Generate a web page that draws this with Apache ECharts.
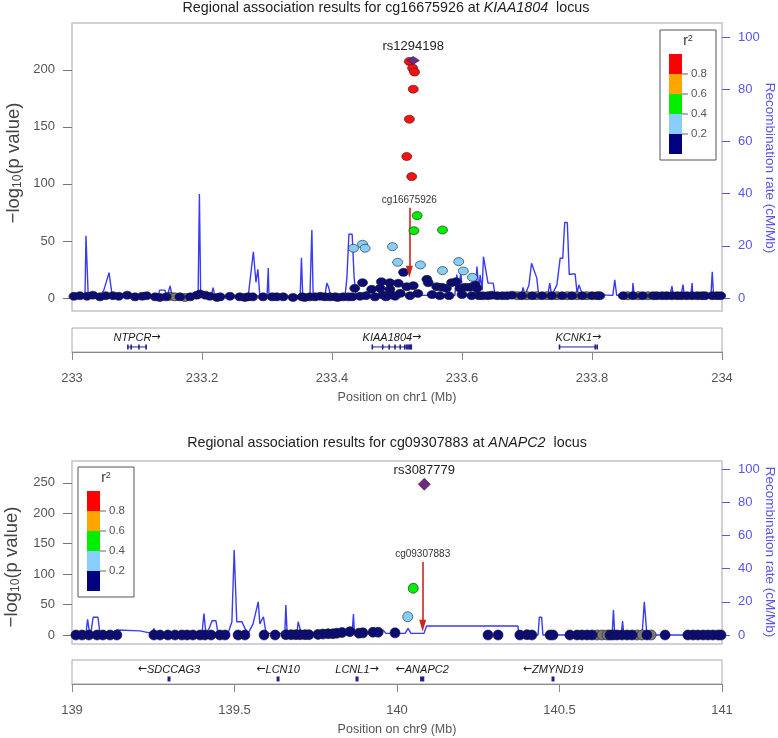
<!DOCTYPE html>
<html><head><meta charset="utf-8">
<script src="https://cdn.jsdelivr.net/npm/echarts@6/dist/echarts.min.js"></script>
<style>html,body{margin:0;padding:0;background:#fff}#c{width:778px;height:738px}</style>
</head><body><div id="c"></div>
<script>
// ---------------- TOP PANEL (chr1, KIAA1804) ----------------
const topNavy = [
[233.003,1.5],[233.012,2],[233.023,1.5],[233.032,2.5],[233.043,1],[233.052,2],[233.063,2],[233.072,1.5],[233.085,2.5],[233.097,1],
[233.108,1.5],[233.115,2],[233.128,1],[233.135,0.5],[233.145,1],[233.166,1],[233.182,1],[233.192,2.5],[233.197,3.5],[233.205,2.5],
[233.212,1.5],[233.223,0.5],[233.228,1],[233.243,1.5],[233.258,1],[233.266,0.5],[233.271,1],[233.278,1],[233.294,1],[233.308,1],
[233.315,1],[233.325,1],[233.340,0.5],[233.354,1],[233.358,0.5],[233.366,1],[233.374,1],[233.382,1.5],[233.389,1],[233.397,1],
[233.405,1],[233.409,0.5],[233.417,1],[233.425,1],[233.431,1],
[233.435,8.5],[233.447,13.4],[233.461,7.6],[233.476,14.3],[233.474,8.5],[233.478,2.6],[233.489,13.4],[233.489,7.6],[233.492,2.6],
[233.502,12.9],[233.505,4.1],[233.515,9.9],[233.525,10.8],[233.546,16.4],[233.548,13.4],[233.561,9.9],[233.569,9.4],[233.576,8.5],
[233.584,13.4],[233.591,14.3],[233.597,8.5],[233.605,9.4],[233.612,9.4],[233.620,11.4],[233.623,8.5],[233.510,22.5],
[233.443,1.5],[233.452,2],[233.466,1],[233.483,1],[233.497,1.5],[233.520,2],[233.532,4],[233.554,3],[233.566,2],[233.580,2],
[233.600,3],[233.615,2],[233.626,2],
[233.632,2],[233.640,2],[233.646,2.5],[233.654,2],[233.662,2],[233.669,2],[233.677,2.5],[233.692,2],[233.708,2],[233.723,2],
[233.738,2],[233.754,2],[233.769,2],[233.785,2],[233.800,2],[233.808,2],[233.812,2],[233.848,2],[233.863,2],[233.878,2],
[233.894,2],[233.900,2],[233.908,2],[233.915,2],[233.923,2],[233.931,2],[233.938,2],[233.946,2],[233.954,2],[233.962,2],
[233.969,2],[233.974,2],[233.985,2],[233.992,2],[233.998,2]
];
const topGray = [
[233.151,1.5],[233.158,1],[233.174,0.5],[233.685,2],[233.700,2],[233.715,2],[233.731,2],[233.746,2],[233.762,2],[233.777,2],
[233.792,2],[233.855,2],[233.871,2],[233.886,2]
];
const topLightBlue = [
[233.433,43.6],[233.447,47.1],[233.451,43.6],[233.493,45],[233.501,31.3],[233.536,29],[233.570,24],[233.595,31.9],[233.602,23.7],[233.616,18.1]
];
const topGreen = [[233.531,72.2],[233.526,59],[233.570,59.6]];
const topRed = [[233.519,207.3],[233.524,201.5],[233.527,198],[233.525,183],[233.519,156.7],[233.515,124],[233.5226,106.4]];
const topLead = [[233.525,208.2]];
const topLeadName = 'rs1294198';
const topProbeName = 'cg16675926';
const topProbe = [233.519, 79, 23];   // position, arrow start, arrow tip (−log10 p units)
const topRecomb = [
[233.000,0.5],[233.020,0.5],[233.0215,23.8],[233.024,23.8],[233.025,0.5],
[233.043,0.5],[233.049,3],[233.057,9.7],[233.062,0.5],
[233.132,0.5],[233.135,3],[233.143,3],[233.146,0.5],[233.151,4.6],[233.154,0.5],
[233.194,0.5],[233.196,39.8],[233.198,0.5],
[233.214,0.5],[233.217,4],[233.220,0.5],
[233.271,0.5],[233.274,6.9],[233.279,17.7],[233.283,6],[233.286,11],[233.289,0.5],
[233.300,0.5],[233.302,11.5],[233.303,0.5],
[233.351,0.5],[233.353,15.4],[233.355,0.5],
[233.366,0.5],[233.369,26],[233.371,0.5],
[233.389,0.5],[233.392,5.7],[233.395,4],[233.398,0.5],
[233.420,0.5],[233.423,8],[233.426,24.4],[233.431,24.4],[233.434,8],[233.437,1],
[233.451,1],[233.453,2.5],[233.455,1],
[233.526,1],[233.528,2.5],[233.531,1],
[233.589,1],[233.592,9],[233.595,3],[233.598,9.5],[233.602,1],
[233.620,1],[233.623,12],[233.626,3],[233.628,8.8],[233.631,3],[233.633,15.8],[233.635,15.8],[233.640,5.7],[233.648,5.7],[233.651,1],
[233.691,1],[233.694,4],[233.697,1],[233.703,5],[233.707,13.3],[233.715,7.7],[233.718,1],
[233.732,1],[233.735,5.7],[233.738,1],
[233.746,5],[233.751,15.2],[233.755,15.2],[233.758,28.9],[233.762,28.9],[233.765,9],[233.770,9.2],[233.774,9.2],[233.777,2],[233.780,5],[233.785,1.5],
[233.832,1],[233.835,6.9],[233.838,1],
[233.862,1],[233.863,5.7],[233.865,1],
[233.920,1],[233.923,4.5],[233.925,1],
[233.937,1],[233.940,5.1],[233.942,1],
[233.952,1],[233.954,5.7],[233.955,1],
[233.983,1],[233.985,10],[233.987,1],[234.000,1]
];
const topGeneNames = ['NTPCR','KIAA1804','KCNK1'];
const topGeneStart = [233.085,233.4615,233.749];
const topGeneEnd = [233.115,233.523,233.809];
const topGeneStrand = [1,1,1];
const topGeneExons = [
[233.086,233.091,233.103,233.114],
[233.462,233.478,233.488,233.497,233.505,233.512,233.515,233.517,233.519,233.521,233.522],
[233.750,233.805,233.808]
];
const topXTicks = [233,233.2,233.4,233.6,233.8,234];
const topPTicks = [0,50,100,150,200];
const recTicks = [0,20,40,60,80,100];

// ---------------- BOTTOM PANEL (chr9, ANAPC2) ----------------
const botNavy = [
[139.012,0],[139.031,0],[139.052,0],[139.077,0],[139.095,0],[139.117,0],[139.138,0],
[139.252,0],[139.271,0],[139.295,0],[139.317,0],[139.338,0],[139.354,0],[139.372,0],[139.394,0],[139.409,0],[139.428,0],[139.455,0],[139.471,0],
[139.511,0],[139.532,0],[139.591,0],[139.625,0],
[139.658,0.5],[139.674,0.5],[139.689,0.5],[139.702,0.5],[139.717,0.5],[139.729,0.5],
[139.757,1],[139.772,1.5],[139.788,2],[139.803,2],[139.815,3],[139.831,4],
[139.855,5.5],[139.883,3],[139.895,3.5],[139.926,4.5],[139.942,4.5],[139.994,3.5],
[140.280,0],[140.311,0],[140.378,0],[140.400,0.5],[140.415,0],[140.471,0],[140.480,0],
[140.532,0],[140.554,0],[140.569,0],[140.585,0],[140.600,0],[140.655,0],[140.665,0],[140.677,0],[140.692,0],[140.708,0],[140.723,0],[140.769,0],
[140.825,0],[140.895,0],[140.911,0],[140.926,0],[140.942,0],[140.957,0],[140.972,0],[140.988,0],[140.997,0]
];
const botGray = [[140.615,0],[140.631,0],[140.646,0],[140.738,0],[140.754,0],[140.782,0]];
const botLightBlue = [[140.033,30]];
const botGreen = [[140.050,76.8]];
const botRed = [];
const botLead = [[140.084,247.8]];
const botLeadName = 'rs3087779';
const botProbeName = 'cg09307883';
const botProbe = [140.079, 120, 15.3];
const botRecomb = [
[139.000,1],[139.043,1],[139.048,9.4],[139.052,4],[139.058,1],[139.065,10.7],[139.080,10.7],[139.086,1],
[139.123,1],[139.138,3],[139.209,2.5],[139.246,1],[139.252,4],[139.258,1],
[139.400,1],[139.406,13],[139.412,1],[139.422,4],[139.431,8.6],[139.443,8.6],[139.449,1],
[139.480,1],[139.492,8],[139.499,51.2],[139.507,8],[139.523,8],[139.532,4],[139.542,1],
[139.548,1],[139.557,6.7],[139.573,20],[139.578,6.7],[139.589,11],[139.597,1],
[139.655,1],[139.658,18],[139.662,1],[139.692,1],[139.696,8],[139.702,8],[139.705,1],
[139.862,1],[139.866,12.6],[139.869,1],[139.948,1],[139.957,3],[139.966,1],
[140.025,1],[140.034,4],[140.043,1],[140.083,1],[140.091,5.4],[140.372,5.4],[140.375,0],
[140.434,0],[140.438,10.7],[140.445,10.7],[140.449,0],
[140.662,0],[140.666,15],[140.670,0],[140.690,0],[140.694,8.4],[140.698,0],
[140.754,0],[140.761,20],[140.769,0],[140.966,0],[140.971,2.3],[140.975,0],[141.000,0]
];
const botGeneNames = ['SDCCAG3','LCN10','LCNL1','ANAPC2','ZMYND19'];
const botGeneStart = [139.295,139.633,139.876,140.071,140.478];
const botGeneEnd = [139.302,139.635,139.878,140.084,140.482];
const botGeneStrand = [-1,-1,1,-1,-1];
const botGeneExons = [[],[],[],[],[]];
const botXTicks = [139,139.5,140,140.5,141];
const botPTicks = [0,50,100,150,200,250];

// r² legend
const r2Colors = ['#ff0000','#ffa500','#00ee00','#87cefa','#000080'];
const r2Labels = ['0.8','0.6','0.4','0.2'];

// ---------------- styles ----------------
const FF = '"Liberation Sans", Arial, sans-serif';
const C = {navy:'#0c0c78', lb:'#87cefa', green:'#00ee00', red:'#ff1010', gray:'#7a7a7a', lead:'#6e2a7e', rec:'#3a3af2', recTxt:'#5555f0', arrow:'#c8281e'};

function scat(xi, yi, data, color, size, z) {
  return {type:'scatter', xAxisIndex:xi, yAxisIndex:yi, data:data, symbol:'circle', symbolSize:size,
    itemStyle:{color:color, borderColor:'#1a1a1a', borderWidth:0.6, opacity:1}, z:z, silent:true};
}
function leadSeries(xi, yi, data, name, size, dist, probe, probeName) {
  return {type:'scatter', xAxisIndex:xi, yAxisIndex:yi, data:data, symbol:'diamond', symbolSize:size,
    itemStyle:{color:C.lead, borderColor:'#3a1040', borderWidth:0.6, opacity:1}, z:10, silent:true,
    label:{show:true, position:'top', distance:dist, formatter:name, fontSize:13, fontFamily:FF, color:'#222'},
    markLine:{silent:true, animation:false, symbol:['none','triangle'], symbolSize:[7,12],
      lineStyle:{color:C.arrow, width:1.6, type:'solid', opacity:1},
      itemStyle:{color:C.arrow},
      label:{show:true, position:'start', formatter:probeName, fontSize:10, fontFamily:FF, color:'#333', distance:3},
      data:[[{coord:[probe[0],probe[1]]},{coord:[probe[0],probe[2]]}]]}
  };
}
function recSeries(xi, yi, data) {
  return {type:'line', xAxisIndex:xi, yAxisIndex:yi, data:data, showSymbol:false, symbol:'none',
    lineStyle:{color:C.rec, width:1.4}, z:1, silent:true};
}
function geneSeries(xi, yi, names, starts, ends, strands, exons) {
  return {type:'custom', xAxisIndex:xi, yAxisIndex:yi, silent:true, z:5,
    data: names.map(function(n,i){return [starts[i], ends[i], i];}),
    renderItem: function(params, api) {
      const i = api.value(2);
      const s = api.value(0), e = api.value(1);
      const p0 = api.coord([s, 0.21]), p1 = api.coord([e, 0.21]);
      const pl = api.coord([(s+e)/2, 0.6]);
      const ch = [];
      const ex = exons[i] || [];
      if (ex.length) {
        ch.push({type:'line', shape:{x1:p0[0], y1:p0[1], x2:p1[0], y2:p1[1]}, style:{stroke:'#20208a', lineWidth:1}});
        ex.forEach(function(v){ const pe = api.coord([v,0.21]);
          ch.push({type:'rect', shape:{x:pe[0]-0.8, y:pe[1]-2.5, width:1.6, height:5}, style:{fill:'#20208a'}}); });
      } else {
        const w = Math.max(3, p1[0]-p0[0]);
        ch.push({type:'rect', shape:{x:(p0[0]+p1[0])/2-w/2, y:p0[1]-2.5, width:w, height:5}, style:{fill:'#20208a'}});
      }
      const lab = strands[i] > 0 ? '{n|' + names[i] + '}{a|\u2192}' : '{a|\u2190}{n|' + names[i] + '}';
      ch.push({type:'text', style:{text:lab, x:pl[0], y:pl[1], align:'center', verticalAlign:'middle',
        rich:{n:{fontSize:11, fontStyle:'italic', fontFamily:FF, fill:'#1a1a1a'},
              a:{fontSize:11, fontFamily:'"DejaVu Sans"', fill:'#1a1a1a'}}}});
      return {type:'group', children:ch};
    }};
}
function pAxis(gi, min, max, ticks) {
  return {gridIndex:gi, type:'value', position:'left', min:min, max:max,
    axisLine:{show:false}, splitLine:{show:false},
    axisTick:{show:true, length:9, lineStyle:{color:'#777', width:1}, customValues:ticks},
    axisLabel:{show:true, customValues:ticks, margin:17, fontSize:13, fontFamily:FF, color:'#555'}};
}
function rAxis(gi, min, max) {
  return {gridIndex:gi, type:'value', position:'right', min:min, max:max,
    axisLine:{show:false}, splitLine:{show:false},
    axisTick:{show:true, length:8, lineStyle:{color:C.recTxt, width:1}, customValues:recTicks},
    axisLabel:{show:true, customValues:recTicks, margin:16, fontSize:13, fontFamily:FF, color:C.recTxt}};
}
function posAxis(gi, min, max, interval, name) {
  return {gridIndex:gi, type:'value', position:'bottom', min:min, max:max, interval:interval,
    axisLine:{show:true, lineStyle:{color:'#888', width:1}}, splitLine:{show:false},
    axisTick:{show:true, length:8, lineStyle:{color:'#888', width:1}},
    axisLabel:{show:true, margin:20, fontSize:13, fontFamily:FF, color:'#555'},
    name:name, nameLocation:'middle', nameGap:39, nameTextStyle:{fontSize:12.5, fontFamily:FF, color:'#555'}};
}
function legendGraphic(x0, y0) {
  const els = [];
  els.push({type:'rect', shape:{x:x0, y:y0, width:56, height:130}, style:{fill:'#fff', stroke:'#555', lineWidth:1}, z:100});
  els.push({type:'text', style:{text:'{r|r}{s|2}', rich:{r:{fontSize:14, fontFamily:FF, fill:'#333'}, s:{fontSize:9, fontFamily:FF, fill:'#333', verticalAlign:'top'}},
    x:x0+28, y:y0+11, align:'center', verticalAlign:'middle'}, z:101});
  r2Colors.forEach(function(c,i){
    els.push({type:'rect', shape:{x:x0+9, y:y0+24+i*20, width:13, height:20}, style:{fill:c, stroke:null}, z:101});
  });
  r2Labels.forEach(function(t,i){
    const yy = y0+44+i*20;
    els.push({type:'line', shape:{x1:x0+22, y1:yy, x2:x0+28, y2:yy}, style:{stroke:'#666', lineWidth:1}, z:101});
    els.push({type:'text', style:{text:t, x:x0+31, y:yy, align:'left', verticalAlign:'middle', fontSize:11.5, fontFamily:FF, fill:'#555'}, z:101});
  });
  return els;
}
function titleGraphic(x, y, probe, gene) {
  return {type:'text', z:100, style:{text:'{a|Regional association results for ' + probe + ' at }{b|' + gene + '}{a|  locus}',
    rich:{a:{fontSize:14.3, fontFamily:FF, fill:'#222'}, b:{fontSize:14.3, fontFamily:FF, fontStyle:'italic', fill:'#222'}},
    x:x, y:y, align:'center', verticalAlign:'middle'}};
}
function ylabGraphic(x, y) {
  return {type:'text', z:100, rotation:Math.PI/2, x:x, y:y,
    style:{text:'{a|\u2212log}{s|10}{a|(p value)}', rich:{a:{fontSize:18.5, fontFamily:FF, fill:'#444'}, s:{fontSize:12, fontFamily:FF, fill:'#444', verticalAlign:'bottom'}},
    x:0, y:0, align:'center', verticalAlign:'middle'}};
}
function rlabGraphic(x, y) {
  return {type:'text', z:100, rotation:-Math.PI/2, x:x, y:y,
    style:{text:'Recombination rate (cM/Mb)', x:0, y:0, align:'center', verticalAlign:'middle', fontSize:13.5, fontFamily:FF, fill:C.recTxt}};
}

const gridMain = {show:true, borderColor:'#c4c4c4', borderWidth:1.5, backgroundColor:'transparent'};
const gridGene = {show:true, borderColor:'#a8a8a8', borderWidth:1, backgroundColor:'transparent'};

const option = {
  animation:false,
  backgroundColor:'#fff',
  grid:[
    Object.assign({left:72, top:23, width:650, height:288}, gridMain),
    Object.assign({left:72, top:328, width:650, height:24}, gridGene),
    Object.assign({left:72, top:461, width:650, height:183}, gridMain),
    Object.assign({left:72, top:660, width:650, height:24}, gridGene)
  ],
  xAxis:[
    {gridIndex:0, type:'value', min:233, max:234, show:false},
    posAxis(1, 233, 234, 0.2, 'Position on chr1 (Mb)'),
    {gridIndex:2, type:'value', min:139, max:141, show:false},
    posAxis(3, 139, 141, 0.5, 'Position on chr9 (Mb)')
  ],
  yAxis:[
    pAxis(0, -11.4, 241, topPTicks),
    rAxis(0, -5, 105.4),
    {gridIndex:1, type:'value', min:0, max:1, show:false},
    pAxis(2, -14.8, 286, botPTicks),
    rAxis(2, -5.4, 104.8),
    {gridIndex:3, type:'value', min:0, max:1, show:false}
  ],
  series:[
    recSeries(0, 1, topRecomb),
    scat(0, 0, topGray, C.gray, [10,8], 3),
    scat(0, 0, topNavy, C.navy, [10,8], 4),
    scat(0, 0, topLightBlue, C.lb, [10,8], 5),
    scat(0, 0, topGreen, C.green, [10,8], 6),
    scat(0, 0, topRed, C.red, [10,8], 7),
    leadSeries(0, 0, topLead, topLeadName, [12,8], 3, topProbe, topProbeName),
    geneSeries(1, 2, topGeneNames, topGeneStart, topGeneEnd, topGeneStrand, topGeneExons),

    recSeries(2, 4, botRecomb),
    scat(2, 3, botGray, C.gray, 10, 3),
    scat(2, 3, botNavy, C.navy, 10, 4),
    scat(2, 3, botLightBlue, C.lb, 10, 5),
    scat(2, 3, botGreen, C.green, 10, 6),
    scat(2, 3, botRed, C.red, 10, 7),
    leadSeries(2, 3, botLead, botLeadName, 12, 1, botProbe, botProbeName),
    geneSeries(3, 5, botGeneNames, botGeneStart, botGeneEnd, botGeneStrand, botGeneExons)
  ],
  graphic:[
    titleGraphic(386, 8, 'cg16675926', 'KIAA1804'),
    titleGraphic(387, 443, 'cg09307883', 'ANAPC2'),
    ylabGraphic(14, 163),
    ylabGraphic(12, 567),
    rlabGraphic(770, 168),
    rlabGraphic(770, 552)
  ].concat(legendGraphic(660, 30)).concat(legendGraphic(78, 467))
};

const chart = echarts.init(document.getElementById('c'), null, {renderer:'canvas'});
chart.setOption(option);
</script></body></html>
